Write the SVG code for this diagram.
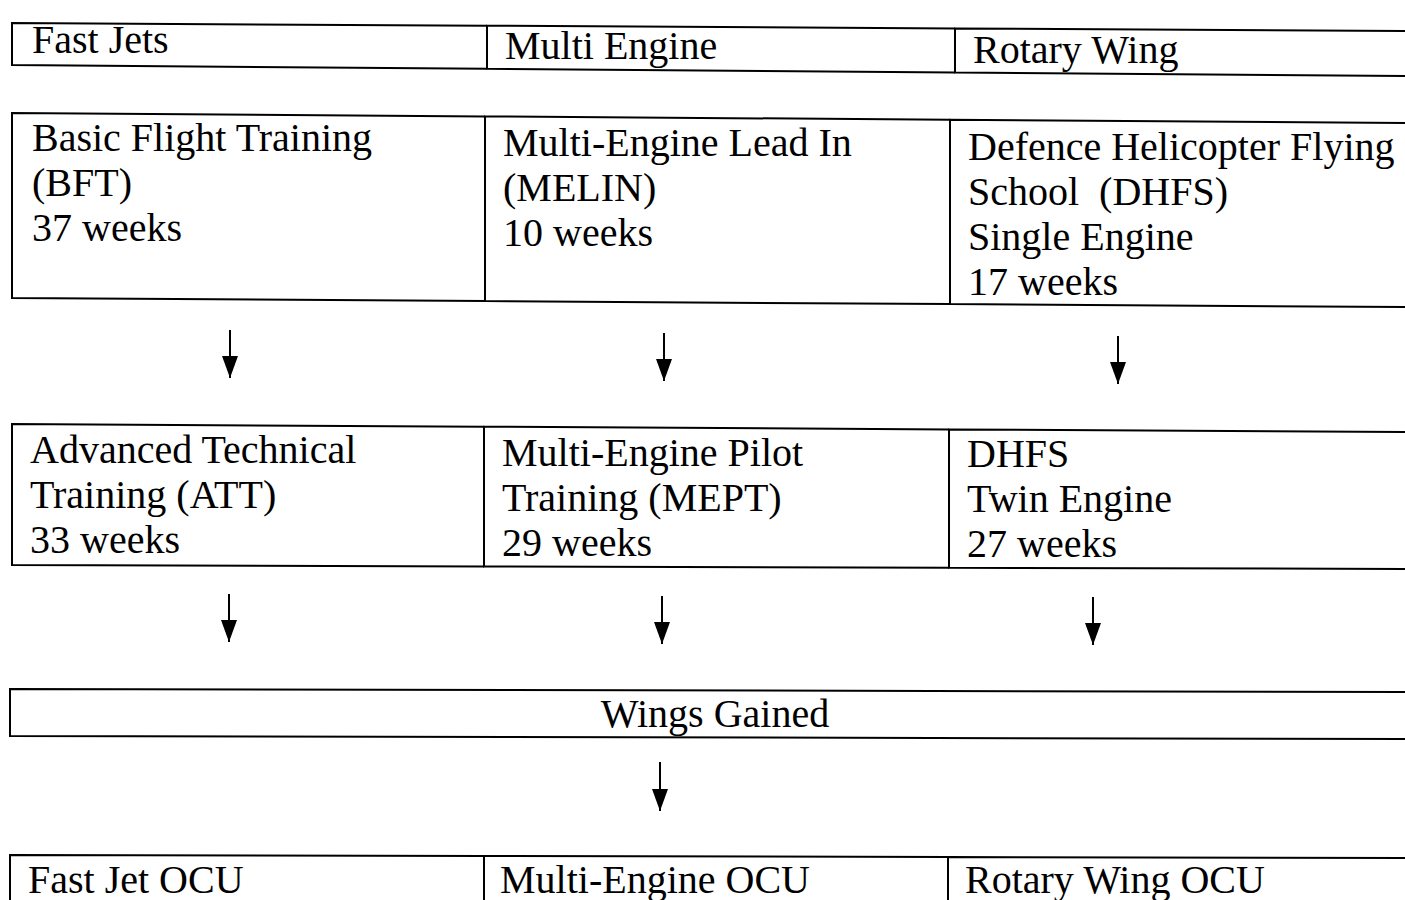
<svg xmlns="http://www.w3.org/2000/svg" width="1405" height="900" viewBox="0 0 1405 900">
<style>
.b{fill:none;stroke:#000;stroke-width:2}
.t{font-family:"Liberation Serif","Times New Roman",serif;font-size:40px;fill:#000}
.c{stroke:#000;stroke-width:2;fill:none}
</style>
<defs>
<marker id="ah" viewBox="0 0 22 16" refX="22" refY="8" markerWidth="22" markerHeight="16" markerUnits="userSpaceOnUse" orient="auto">
<path d="M0,0 L22,8 L0,16 z" fill="#000"/>
</marker>
</defs>
<rect width="1405" height="900" fill="#fff"/>
<g id="hdr-fastjets">
<path class="b" d="M487,25.7 L12,23 L12,65 L487,68.8"/>
<text class="t" x="32" y="53">Fast Jets</text>
</g>
<g id="hdr-multiengine">
<path class="b" d="M955,28.4 L487,25.7 L487,68.8 L955,72.4"/>
<text class="t" x="505" y="59">Multi Engine</text>
</g>
<g id="hdr-rotarywing">
<path class="b" d="M1405,31 L955,28.4 L955,72.4 L1405,76"/>
<text class="t" x="973" y="63">Rotary Wing</text>
</g>
<g id="bft">
<path class="b" d="M485,116.4 L12,113 L12,298 L485,301.1"/>
<text class="t" x="32" y="151">Basic Flight Training</text>
<text class="t" x="32" y="196">(BFT)</text>
<text class="t" x="32" y="241">37 weeks</text>
</g>
<g id="melin">
<path class="b" d="M950,119.7 L485,116.4 L485,301.1 L950,304.1"/>
<text class="t" x="503" y="156">Multi-Engine Lead In</text>
<text class="t" x="503" y="201">(MELIN)</text>
<text class="t" x="503" y="246">10 weeks</text>
</g>
<g id="dhfs-single">
<path class="b" d="M1405,123 L950,119.7 L950,304.1 L1405,307"/>
<text class="t" x="968" y="160">Defence Helicopter Flying</text>
<text class="t" x="968" y="205" xml:space="preserve">School  (DHFS)</text>
<text class="t" x="968" y="250">Single Engine</text>
<text class="t" x="968" y="295">17 weeks</text>
</g>
<g id="att">
<path class="b" d="M484,426.7 L12,424 L12,565 L484,566.4"/>
<text class="t" x="30" y="463">Advanced Technical</text>
<text class="t" x="30" y="508">Training (ATT)</text>
<text class="t" x="30" y="553">33 weeks</text>
</g>
<g id="mept">
<path class="b" d="M949,429.4 L484,426.7 L484,566.4 L949,567.7"/>
<text class="t" x="502" y="466">Multi-Engine Pilot</text>
<text class="t" x="502" y="511">Training (MEPT)</text>
<text class="t" x="502" y="556">29 weeks</text>
</g>
<g id="dhfs-twin">
<path class="b" d="M1405,432 L949,429.4 L949,567.7 L1405,569"/>
<text class="t" x="967" y="467">DHFS</text>
<text class="t" x="967" y="512">Twin Engine</text>
<text class="t" x="967" y="557">27 weeks</text>
</g>
<g id="wings">
<path class="b" d="M1405,692 L10,689 L10,736 L1405,739"/>
<text class="t" x="715" y="727" text-anchor="middle">Wings Gained</text>
</g>
<g id="ocu-fastjet">
<path class="b" d="M484,856 L10,855 L10,900"/>
<text class="t" x="28" y="893">Fast Jet OCU</text>
</g>
<g id="ocu-multiengine">
<path class="b" d="M948,857 L484,856 L484,900"/>
<text class="t" x="500" y="893">Multi-Engine OCU</text>
</g>
<g id="ocu-rotarywing">
<path class="b" d="M1405,858 L948,857 L948,900"/>
<text class="t" x="965" y="893">Rotary Wing OCU</text>
</g>
<g id="connectors">
<line class="c" x1="230" y1="330" x2="230" y2="378" marker-end="url(#ah)"/>
<line class="c" x1="664" y1="333" x2="664" y2="381" marker-end="url(#ah)"/>
<line class="c" x1="1118" y1="336" x2="1118" y2="384" marker-end="url(#ah)"/>
<line class="c" x1="229" y1="594" x2="229" y2="642" marker-end="url(#ah)"/>
<line class="c" x1="662" y1="596" x2="662" y2="644" marker-end="url(#ah)"/>
<line class="c" x1="1093" y1="597" x2="1093" y2="645" marker-end="url(#ah)"/>
<line class="c" x1="660" y1="762" x2="660" y2="811" marker-end="url(#ah)"/>
</g>
</svg>
